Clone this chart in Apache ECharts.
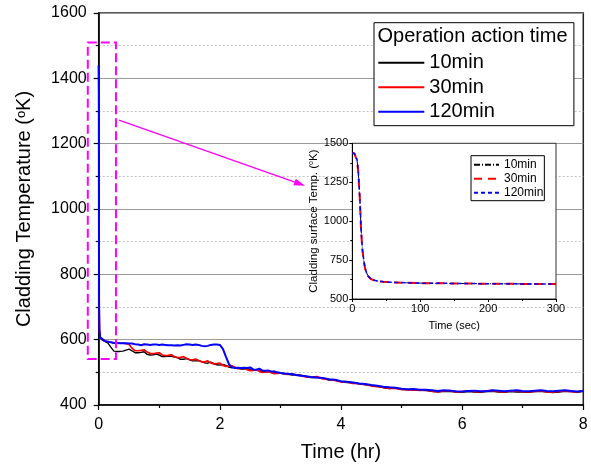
<!DOCTYPE html>
<html><head><meta charset="utf-8">
<script src="https://cdn.jsdelivr.net/npm/echarts@6/dist/echarts.min.js"></script>
<style>html,body{margin:0;padding:0;background:#fff}#c{width:591px;height:469px}</style>
</head><body><div id="c"></div>
<script>
// ---- main chart data (time in hours, temperature in K) ----
const timeHr = [0, 0.003, 0.006, 0.012, 0.025,
  0.05,0.1,0.15,0.2,0.25,0.3,0.35,0.4,0.45,0.5,
  0.55,0.6,0.65,0.7,0.75,0.8,0.85,0.9,0.95,1.0,
  1.05,1.1,1.15,1.2,1.25,1.3,1.35,1.4,1.45,1.5,
  1.55,1.6,1.65,1.7,1.75,1.8,1.85,1.9,1.95,2.0,
  2.05,2.1,2.15,2.2,2.25,2.3,2.35,2.4,2.45,2.5,
  2.55,2.6,2.65,2.7,2.75,2.8,2.85,2.9,2.95,3.0,
  3.1,3.2,3.3,3.4,3.5,3.6,3.7,3.8,3.9,4.0,
  4.1,4.2,4.3,4.4,4.5,4.6,4.7,4.8,4.9,5.0,
  5.1,5.2,5.3,5.4,5.5,5.6,5.7,5.8,5.9,6.0,
  6.1,6.2,6.3,6.4,6.5,6.6,6.7,6.8,6.9,7.0,
  7.1,7.2,7.3,7.4,7.5,7.6,7.7,7.8,7.9,8.0];
const temp10 = [1440, 1330, 720, 628, 607,
  600,595,590,577,565,564,564,565,568,571,
  566,560,560,561,563,555,553,554,556,553,
  548,548,550,549,547,545,540,540,542,538,
  535,535,536,533,529,528,531,527,523,522,
  524,521,516,514,516,513,510,510,512,508,
  506,506,508,504,501,502,503,500,497,497,
  495,492,493,488,484,485,482,476,476,472,
  469,468,465,462,460,457,453,450,452,447,
  447,446,445,444,442,440,442,441,440,439,
  441,440,439,441,442,440,439,441,440,440,
  439,441,442,440,438,440,442,441,439,442];
const temp30 = [1440, 1330, 720, 628, 607,
  601,596,594,592,590,590,589,589,588,586,
  574,566,566,567,569,562,558,557,559,560,
  553,551,552,554,548,545,546,548,543,539,
  538,541,536,532,532,535,529,526,527,528,
  521,518,519,520,514,511,512,514,508,505,
  506,508,503,500,501,503,499,496,497,498,
  494,495,491,487,485,487,480,478,475,471,
  471,466,465,463,458,456,454,451,451,448,
  446,447,445,446,442,441,443,444,440,441,
  443,442,440,443,444,441,440,443,443,441,
  440,442,443,440,439,442,443,441,440,444];
const temp120 = [1440, 1330, 720, 628, 607,
  601,596,594,592,590,590,589,589,589,588,
  588,586,585,583,586,585,584,585,585,584,
  585,584,583,583,582,583,582,584,586,585,
  584,585,584,581,580,581,584,585,585,584,
  572,548,525,516,513,514,513,514,513,515,
  509,508,511,506,505,506,502,503,500,498,
  496,494,490,489,486,484,483,479,477,473,
  471,469,466,464,461,459,456,454,453,450,
  448,449,447,447,445,443,445,444,442,441,
  443,444,442,442,445,444,442,444,445,443,
  442,444,445,443,442,444,445,443,441,443];

// ---- inset data (time in seconds) ----
const timeSec = [0,3,5.5,7,8.8,10,11.3,12.8,14,15.3,17,18.7,21,23.6,27,31,38,45.6,60,80,100,150,200,250,300];
const inset10  = [1436,1436,1430,1392,1318,1228,1125,960,870,800,745,700,668,645,630,622,615,611,607,604,602,600,598,597,596];
const inset30  = [1436,1435,1428,1388,1315,1225,1120,955,866,798,743,698,667,645,630,621,614,611,607,604,602,600,598,597,596];
const inset120 = [1436,1436,1431,1395,1322,1230,1128,962,872,802,746,700,668,646,631,622,615,611,607,604,602,600,598,597,596];

// ---- annotation (data coordinates of the main chart) ----
const zoomBoxHr = [-0.18, 0.285];
const zoomBoxK = [541, 1510];
const arrowFrom = [0.335, 1272];
const arrowTo = [3.32, 1077];

const legendNames = ['10min', '30min', '120min'];
const insetTitle = 'Operation action time';

const FONT = '"Liberation Sans", Arial, Helvetica, sans-serif';
const pairs = (xs, ys) => xs.map((x, i) => [x, ys[i]]);
const insetLabel = {in10: '10min', in30: '30min', in120: '120min'};
const plain = v => String(v);

const chart = echarts.init(document.getElementById('c'), null, {renderer: 'canvas'});

const mainLine = (name, data, color, width) => ({
  name, type: 'line', xAxisIndex: 0, yAxisIndex: 0, data,
  symbol: 'none', showSymbol: false, z: 3,
  lineStyle: {color, width}, itemStyle: {color},
  emphasis: {disabled: true}
});
const insetLine = (name, data, color, width, type) => ({
  name, type: 'line', xAxisIndex: 1, yAxisIndex: 1, data,
  symbol: 'none', showSymbol: false, z: 12,
  lineStyle: {color, width, type}, itemStyle: {color},
  emphasis: {disabled: true}
});

const option = {
  animation: false,
  backgroundColor: '#fff',
  textStyle: {fontFamily: FONT, color: '#000'},
  grid: [
    {left: 98.7, top: 13, width: 484.6, height: 392, show: true,
     borderColor: '#222', borderWidth: 1.5, backgroundColor: 'transparent'},
    {left: 352.3, top: 143.3, width: 203.7, height: 155.7, show: true,
     borderColor: '#333', borderWidth: 1, backgroundColor: '#fff', z: 10}
  ],
  xAxis: [
    {gridIndex: 0, type: 'value', min: 0, max: 8, interval: 2,
     axisLine: {onZero: false, lineStyle: {color: '#000', width: 1.5}},
     axisTick: {length: 5, lineStyle: {color: '#000', width: 1.2}},
     minorTick: {show: true, splitNumber: 2, length: 3, lineStyle: {color: '#000', width: 1.2}},
     axisLabel: {fontSize: 16, color: '#000', margin: 12, fontFamily: FONT, formatter: plain},
     splitLine: {show: false},
     name: 'Time (hr)', nameLocation: 'middle', nameGap: 37,
     nameTextStyle: {fontSize: 20, color: '#000', fontFamily: FONT}},
    {gridIndex: 1, type: 'value', min: 0, max: 300, interval: 100, z: 11,
     axisLine: {onZero: false, lineStyle: {color: '#000', width: 1}},
     axisTick: {length: 3, lineStyle: {color: '#000'}},
     minorTick: {show: true, splitNumber: 2, length: 2, lineStyle: {color: '#000'}},
     axisLabel: {fontSize: 11, color: '#000', margin: 4, fontFamily: FONT, formatter: plain},
     splitLine: {show: false},
     name: 'Time (sec)', nameLocation: 'middle', nameGap: 21,
     nameTextStyle: {fontSize: 11, color: '#000', fontFamily: FONT}}
  ],
  yAxis: [
    {gridIndex: 0, type: 'value', min: 400, max: 1600, interval: 200,
     axisLine: {onZero: false, lineStyle: {color: '#000', width: 1.5}},
     axisTick: {length: 5, lineStyle: {color: '#000', width: 1.2}},
     minorTick: {show: true, splitNumber: 2, length: 3, lineStyle: {color: '#000', width: 1.2}},
     axisLabel: {fontSize: 16, color: '#000', margin: 12, fontFamily: FONT, formatter: plain},
     splitLine: {show: true, lineStyle: {color: '#9a9a9a', width: 1}},
     minorSplitLine: {show: true, lineStyle: {color: '#c4c4c4', width: 1, type: [2, 2]}},
     name: 'Cladding Temperature ({s|o}K)', nameLocation: 'middle', nameGap: 64,
     nameTextStyle: {fontSize: 20, color: '#000', fontFamily: FONT,
       rich: {s: {fontSize: 13, verticalAlign: 'top', lineHeight: 13, color: '#000', fontFamily: FONT}}}},
    {gridIndex: 1, type: 'value', min: 500, max: 1500, interval: 250, z: 11,
     axisLine: {onZero: false, lineStyle: {color: '#000', width: 1}},
     axisTick: {length: 3, lineStyle: {color: '#000'}},
     minorTick: {show: true, splitNumber: 2, length: 2, lineStyle: {color: '#000'}},
     axisLabel: {fontSize: 11, color: '#000', margin: 4, fontFamily: FONT, formatter: plain},
     splitLine: {show: false},
     name: 'Cladding surface Temp. ({s|o}K)', nameLocation: 'middle', nameGap: 31,
     nameTextStyle: {fontSize: 11.5, color: '#000', fontFamily: FONT,
       rich: {s: {fontSize: 7, verticalAlign: 'top', lineHeight: 7, color: '#000', fontFamily: FONT}}}}
  ],
  legend: [
    {data: legendNames, orient: 'vertical', left: 374, top: 22.7,
     padding: [30, 79, 4, 3.3], itemGap: 4.5, itemWidth: 46, itemHeight: 20,
     borderColor: '#000', borderWidth: 1, backgroundColor: '#fff', z: 20,
     selectedMode: false, itemStyle: {opacity: 0},
     textStyle: {fontSize: 20, color: '#000', lineHeight: 20, fontFamily: FONT}},
    {data: ['in10', 'in30', 'in120'], orient: 'vertical', left: 471, top: 155.7,
     padding: [3, 1, 2, 2], itemGap: 2, itemWidth: 25, itemHeight: 12,
     borderColor: '#000', borderWidth: 1, backgroundColor: '#fff', z: 20,
     selectedMode: false, itemStyle: {opacity: 0},
     formatter: n => insetLabel[n],
     textStyle: {fontSize: 12, color: '#000', lineHeight: 12, fontFamily: FONT}}
  ],
  series: [
    mainLine('10min', pairs(timeHr, temp10), '#000000', 1.4),
    mainLine('30min', pairs(timeHr, temp30), '#ff0000', 1.7),
    mainLine('120min', pairs(timeHr, temp120), '#0000ff', 2),
    insetLine('in10', pairs(timeSec, inset10), '#000000', 1, [6, 2, 1, 2]),
    insetLine('in30', pairs(timeSec, inset30), '#ff0000', 2, [8, 6]),
    insetLine('in120', pairs(timeSec, inset120), '#0000ff', 1.5, [4, 3]),
    {name: 'annot', type: 'line', xAxisIndex: 0, yAxisIndex: 0, data: [], silent: true, z: 6,
     markLine: {silent: true, symbol: ['none', 'triangle'], symbolSize: [7, 11],
       label: {show: false}, lineStyle: {color: '#ff00ff', width: 1.3, type: 'solid'},
       emphasis: {disabled: true},
       data: [[{coord: arrowFrom}, {coord: arrowTo}]]}}
  ]
};
chart.setOption(option);

// dashed zoom box, placed through the main grid's scales
const p1 = chart.convertToPixel({gridIndex: 0}, [zoomBoxHr[0], zoomBoxK[1]]);
const p2 = chart.convertToPixel({gridIndex: 0}, [zoomBoxHr[1], zoomBoxK[0]]);
chart.setOption({graphic: [
  {type: 'text', left: 377.5, top: 26, z: 100,
   style: {text: insetTitle, fontSize: 20, fill: '#000', fontFamily: FONT}},
  {type: 'rect', z: 50, silent: true,
   shape: {x: p1[0], y: p1[1], width: p2[0] - p1[0], height: p2[1] - p1[1]},
   style: {fill: 'none', stroke: '#ff00ff', lineWidth: 2, lineDash: [9, 4]}}
]});
</script></body></html>
